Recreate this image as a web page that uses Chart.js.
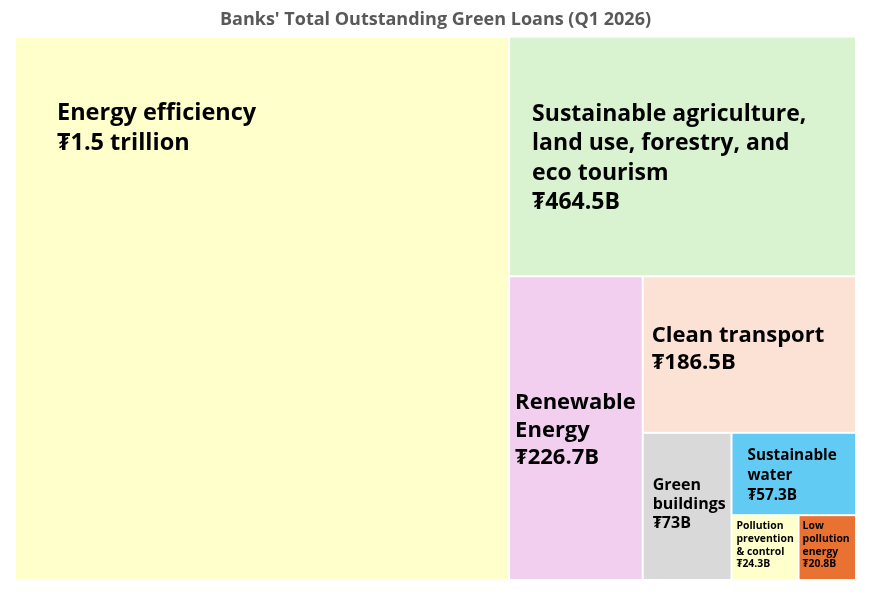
<!DOCTYPE html>
<html>
<head>
<meta charset="utf-8">
<script src="https://cdn.jsdelivr.net/npm/chart.js@4.4.1/dist/chart.umd.min.js"></script>
<style>
  html, body { margin: 0; padding: 0; background: #ffffff; }
  #wrap { width: 880px; height: 598px; }
</style>
</head>
<body>
<div id="wrap"><canvas id="chart"></canvas></div>
<script>
const categories = [
  'Energy efficiency',
  'Sustainable agriculture, land use, forestry, and eco tourism',
  'Renewable Energy',
  'Clean transport',
  'Green buildings',
  'Sustainable water',
  'Pollution prevention & control',
  'Low pollution energy'
]
// outstanding loans, billions
const loanValues = [1500, 464.5, 226.7, 186.5, 73, 57.3, 24.3, 20.8]
const valueLabels = ['₮1.5 trillion', '₮464.5B', '₮226.7B', '₮186.5B', '₮73B', '₮57.3B', '₮24.3B', '₮20.8B']
// how each category name wraps inside its tile
const nameLines = [
  ['Energy efficiency'],
  ['Sustainable agriculture,', 'land use, forestry, and', 'eco tourism'],
  ['Renewable', 'Energy'],
  ['Clean transport'],
  ['Green', 'buildings'],
  ['Sustainable', 'water'],
  ['Pollution', 'prevention', '& control'],
  ['Low', 'pollution', 'energy']
]

const tileColors = ['#FFFFCC', '#D9F2D0', '#F2CEEF', '#FBE2D5', '#D9D9D9', '#61CBF3', '#FFFFCC', '#E97132']
const FONT = '"Open Sans", "Noto Sans", sans-serif'
// label placement inside each tile: left pad, first baseline, line height, font size
const labelStyle = [
  { dx: 42, dy: 83, lh: 30, size: 23.5 },
  { dx: 23, dy: 84, lh: 29.5, size: 23 },
  { dx: 6, dy: 133, lh: 27.5, size: 22 },
  { dx: 9, dy: 66, lh: 27, size: 22 },
  { dx: 10, dy: 57, lh: 19, size: 16 },
  { dx: 16, dy: 27, lh: 20, size: 15.3 },
  { dx: 5, dy: 14, lh: 12.7, size: 10.4 },
  { dx: 4, dy: 14, lh: 12.7, size: 10.4 }
]

// slice-and-dice: each tile takes a strip along the longer side of what is left
function layoutTiles(values, pxW, pxH) {
  let x = 0, y = 0, w = 1, h = 1
  let rest = values.reduce((a, b) => a + b, 0)
  return values.map((v, i) => {
    const frac = v / rest
    let r
    if (i === values.length - 1) {
      r = { x0: x, y0: y, x1: x + w, y1: y + h }
    } else if (w * pxW >= h * pxH) {
      r = { x0: x, y0: y, x1: x + w * frac, y1: y + h }
      x += w * frac
      w -= w * frac
    } else {
      r = { x0: x, y0: y, x1: x + w, y1: y + h * frac }
      y += h * frac
      h -= h * frac
    }
    rest -= v
    return r
  })
}

const treemapPlugin = {
  id: 'treemap',
  afterDatasetsDraw(chart) {
    const { ctx, chartArea, scales } = chart
    const xs = scales.x
    const ys = scales.y
    const tiles = layoutTiles(loanValues, chartArea.width, chartArea.height)
    ctx.save()
    tiles.forEach((t, i) => {
      const left = xs.getPixelForValue(t.x0)
      const right = xs.getPixelForValue(t.x1)
      const top = ys.getPixelForValue(t.y0)
      const bottom = ys.getPixelForValue(t.y1)
      ctx.fillStyle = tileColors[i]
      ctx.fillRect(left + 1, top + 1, right - left - 2, bottom - top - 2)

      const st = labelStyle[i]
      ctx.fillStyle = '#000000'
      ctx.font = `bold ${st.size}px ${FONT}`
      ctx.textAlign = 'left'
      ctx.textBaseline = 'alphabetic'
      const lines = [...nameLines[i], valueLabels[i]]
      lines.forEach((line, k) => {
        ctx.fillText(line, left + st.dx, top + st.dy + k * st.lh)
      })
    })
    ctx.restore()
  }
}

new Chart(document.getElementById('chart'), {
  type: 'scatter',
  data: {
    labels: categories,
    datasets: [{ label: 'Green loans', data: [] }]
  },
  options: {
    responsive: true,
    maintainAspectRatio: false,
    animation: false,
    layout: { padding: { left: 15, right: 24, top: 0, bottom: 18 } },
    plugins: {
      legend: { display: false },
      tooltip: { enabled: false },
      title: {
        display: true,
        text: "Banks' Total Outstanding Green Loans (Q1 2026)",
        color: '#595959',
        font: { family: FONT, size: 18, weight: 'bold' },
        padding: { top: 9, bottom: 6 }
      }
    },
    scales: {
      x: { type: 'linear', min: 0, max: 1, display: false },
      y: { type: 'linear', min: 0, max: 1, reverse: true, display: false }
    }
  },
  plugins: [treemapPlugin]
})
</script>
</body>
</html>
